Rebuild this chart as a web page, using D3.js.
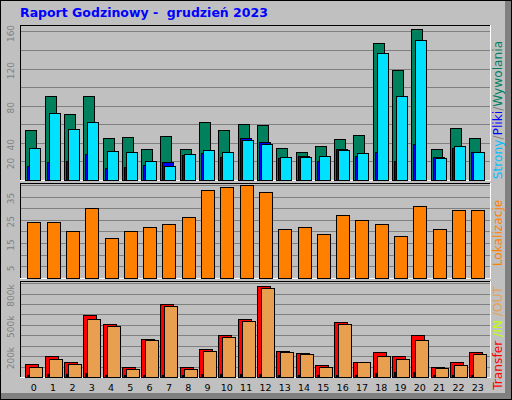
<!DOCTYPE html>
<html><head><meta charset="utf-8">
<script src="https://cdn.jsdelivr.net/npm/d3@7"></script>
<style>body{margin:0;background:#fff}svg{display:block}text{font-family:"DejaVu Sans",sans-serif}</style>
</head><body><svg id="c" width="512" height="400"></svg>
<script>
const hours = d3.range(24).map(String);
const hits  = [54,90,71,91,45,46,33,47,33,62,54,60,59,35,30,37,44,48,148,118,163,33,56,45];
const files = [34,72,55,63,31,30,21,15,28,32,30,43,39,25,25,26,32,29,137,90,151,24,37,30];
const pages = [15,19,20,28,13,14,16,19,27,29,25,45,41,24,26,20,33,26,30,21,39,25,34,30];
const sites = [24,24,20,30,17,20,22,23,26,38,39,40,37,21,22,19,27,25,23,18,31,21,29,29];
const kbytes= [123,197,148,594,506,94,361,700,94,268,400,555,874,245,226,113,526,148,235,206,400,100,139,235];
const kout  = [100,168,129,555,487,81,352,681,81,245,381,535,855,235,216,100,506,139,206,168,352,90,119,216];
const kin   = [20,30,25,40,20,15,20,20,15,25,25,25,30,20,20,15,20,20,40,50,50,15,20,20];
const topTicks = [20,40,80,120,160], midTicks=[5,15,25,35], botTicks=[200,500,800];

const svg = d3.select("#c");
svg.append("rect").attr("width",512).attr("height",400).attr("fill","#000");
svg.append("rect").attr("x",1).attr("y",1).attr("width",510).attr("height",398).attr("fill","#808080");
svg.append("rect").attr("x",1).attr("y",1).attr("width",504).attr("height",392).attr("fill","#c0c0c0");

svg.append("text").attr("x",20).attr("y",17).attr("fill","#0000ff").attr("font-weight","bold")
  .attr("font-size",12.5).attr("font-family","Liberation Sans, Arial").attr("xml:space","preserve").text("Raport Godzinowy -  grudzień 2023");

const x = d3.scaleLinear().domain([0,23]).range([25.3,469.3]);
const X0=20, X1=491;

function panel(y0,y1,max,step,ticks,fmt){
  const y=d3.scaleLinear().domain([0,max]).range([y1,y0]);
  const g=svg.append("g");
  g.append("rect").attr("x",X0).attr("y",y0).attr("width",X1-X0).attr("height",y1-y0).attr("fill","#c0c0c0");
  for(let v=step; y(v)>y0+1; v+=step){
    g.append("line").attr("x1",X0).attr("x2",X1).attr("y1",Math.round(y(v))+.5).attr("y2",Math.round(y(v))+.5).attr("stroke","#808080");
  }
  g.append("line").attr("x1",X0+.5).attr("x2",X0+.5).attr("y1",y0).attr("y2",y1).attr("stroke","#000");
  g.append("line").attr("x1",X0).attr("x2",X1).attr("y1",y0+.5).attr("y2",y0+.5).attr("stroke","#000");
  g.append("line").attr("x1",X1-.5).attr("x2",X1-.5).attr("y1",y0).attr("y2",y1+1).attr("stroke","#fff");
  g.append("line").attr("x1",X0).attr("x2",X1).attr("y1",y1+.5).attr("y2",y1+.5).attr("stroke","#fff");
  ticks.forEach(t=>{
    g.append("text").attr("transform",`translate(14,${y(t)+2}) rotate(-90)`).attr("text-anchor","middle")
     .attr("font-size",9).attr("fill","#808080").text(fmt(t));
  });
  return y;
}
function bars(y,data,off,w,color){
  svg.append("g").selectAll("rect").data(data).join("rect")
   .attr("x",(d,i)=>Math.round(x(i)+off)+.5).attr("width",w)
   .attr("y",d=>Math.round(y(d))+.5).attr("height",d=>Math.max(0,Math.round(y.range()[0])-Math.round(y(d))))
   .attr("fill",color).attr("stroke","#000");
}
const yT=panel(25,180,167,20,topTicks,d=>d);
bars(yT,hits,0,11,"#00805c");
bars(yT,pages,2,11,"#0000ff");
bars(yT,files,4,11,"#00e0ff");

const yM=panel(183,278,40.8,5,midTicks,d=>d);
bars(yM,sites,2,13,"#ff8000");

const yB=panel(281,377,920,100,botTicks,d=>d+"k");
bars(yB,kbytes,0,13,"#ff0000");
bars(yB,kin,2,1,"#c0ff00");
bars(yB,kout,4,13,"#e8a050");

svg.append("g").selectAll("text").data(hours).join("text")
  .attr("x",(d,i)=>x(i)+8.5).attr("y",391).attr("text-anchor","middle").attr("font-size",9.5).attr("fill","#000").text(d=>d);

function side(y,parts){
  const t=svg.append("text").attr("transform",`translate(502,${y}) rotate(-90)`).attr("text-anchor","middle").attr("font-size",12.2).attr("font-family","Liberation Sans, Arial");
  parts.forEach(p=>t.append("tspan").attr("fill",p[1]).text(p[0]));
}
side(110,[["Strony","#00c0ff"],["/","#808080"],["Pliki","#0000ff"],["/","#808080"],["Wywolania","#008060"]]);
side(233,[["Lokalizacje","#ff8000"]]);
side(338,[["Transfer","#ff0000"],[" /IN","#c0ff00"],[" /OUT","#e8a050"]]);
</script></body></html>
